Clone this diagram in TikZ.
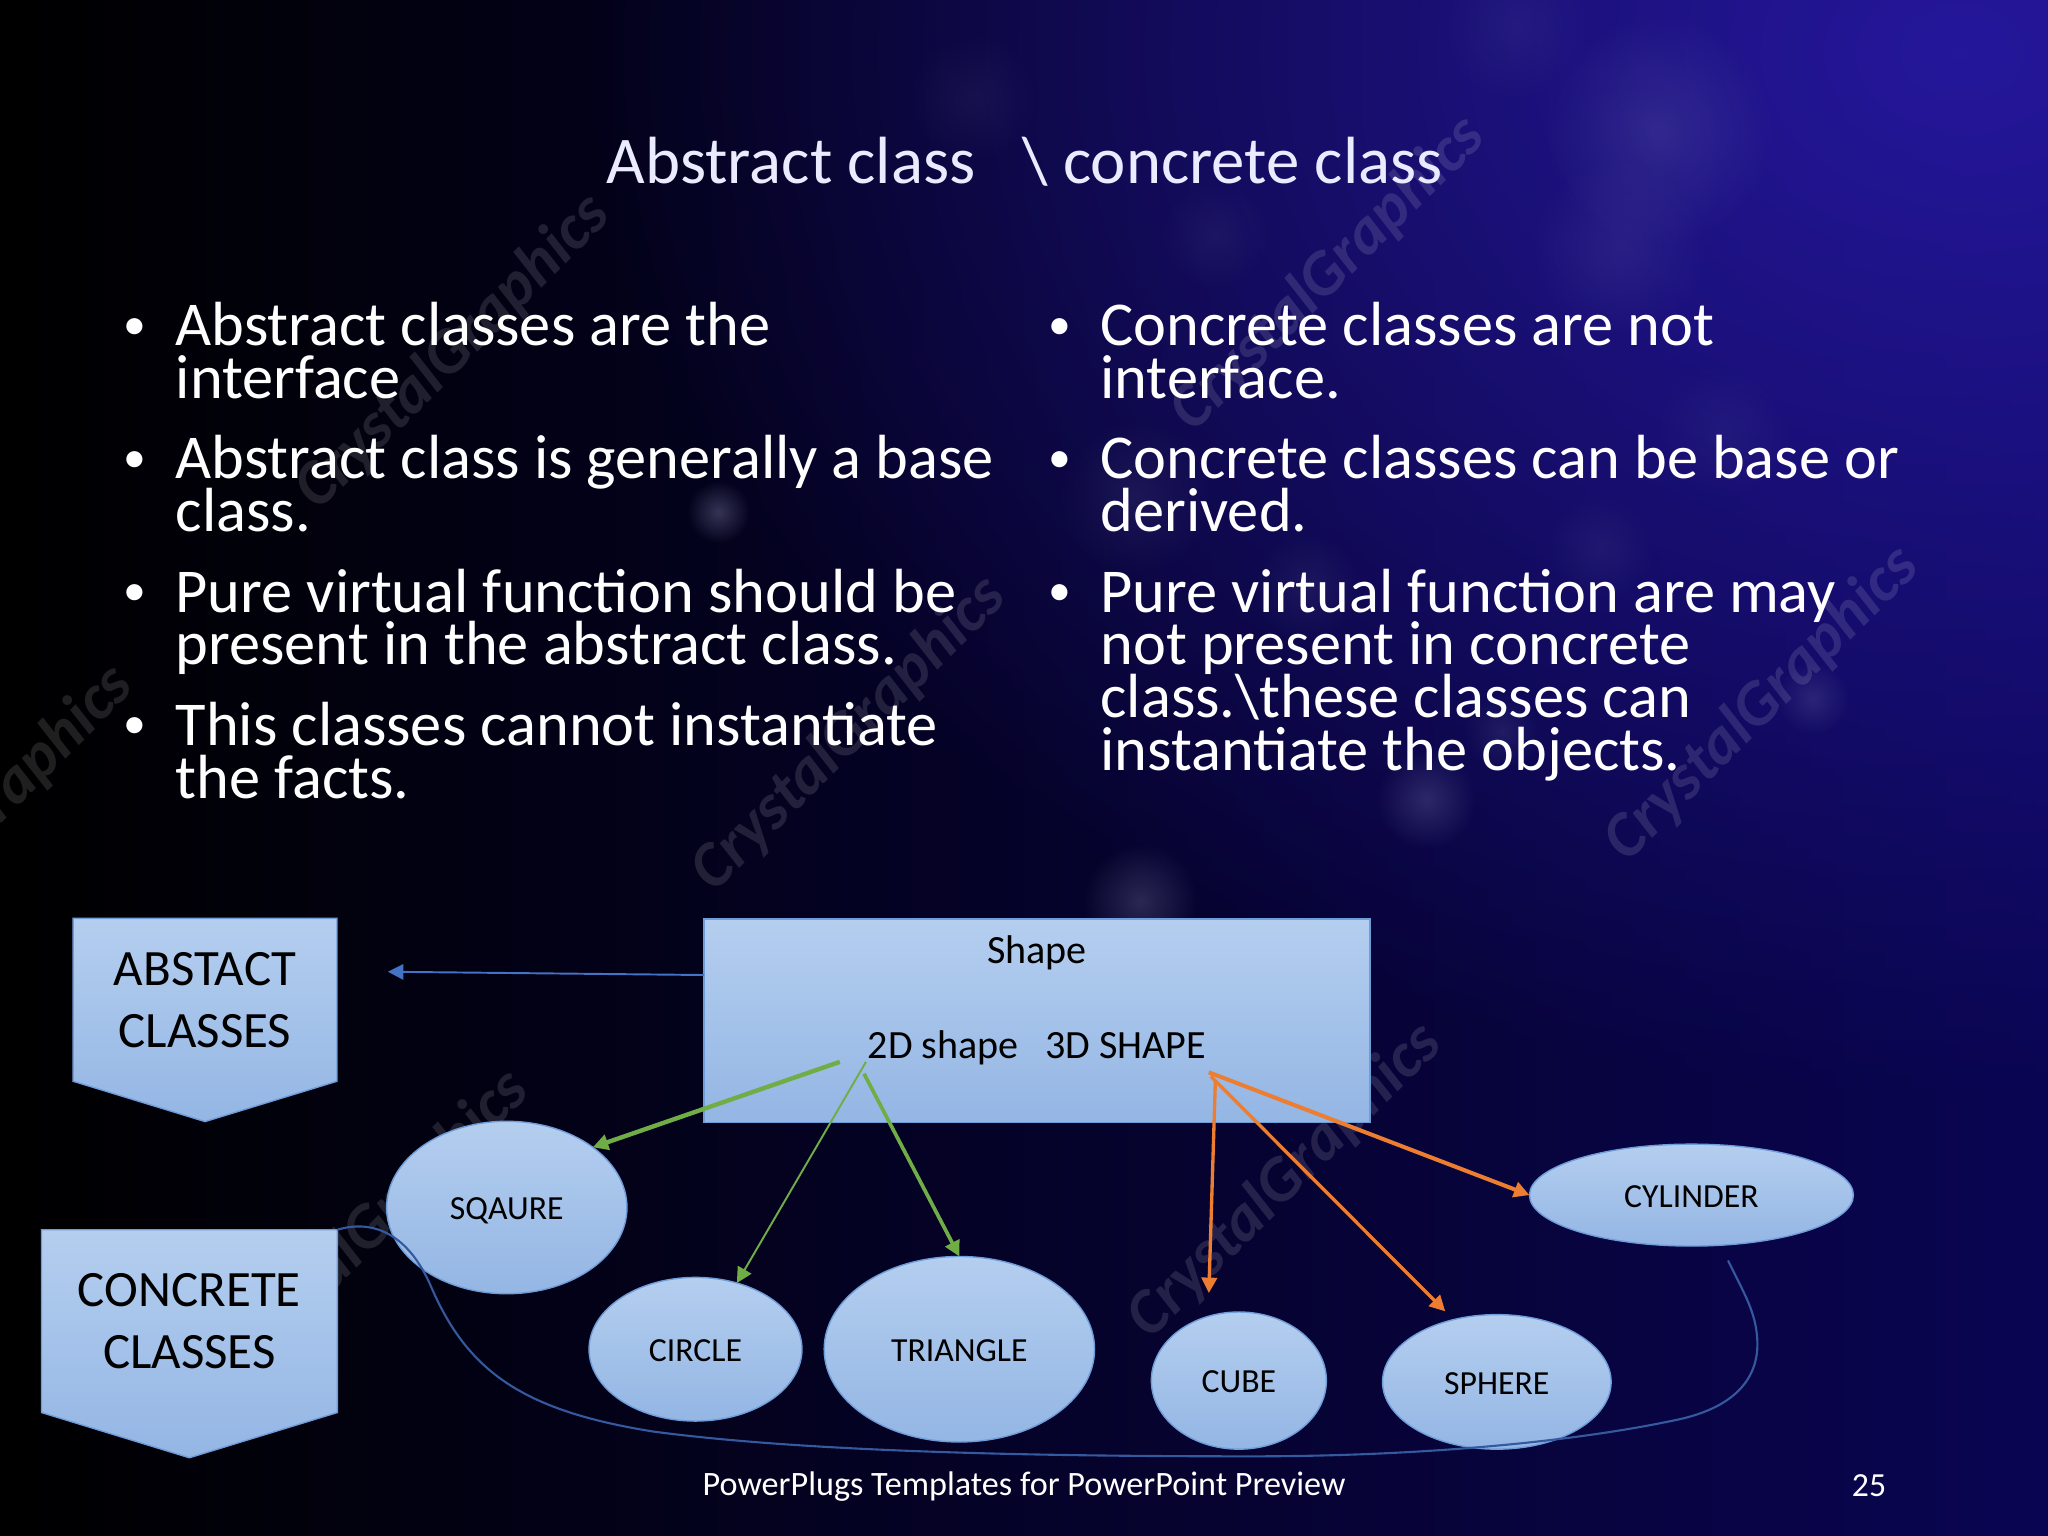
\documentclass[tikz,border=0pt]{standalone}
\usepackage{fontspec}
\setmainfont{Carlito}
\usepackage{tikz}
\usetikzlibrary{arrows.meta,positioning,shapes.geometric,shapes.symbols,fadings}
\definecolor{shapetop}{HTML}{B4CEEF}
\definecolor{shapebottom}{HTML}{94B6E4}
\definecolor{shapeline}{HTML}{6F9DD9}
\definecolor{glowblue}{HTML}{2A1AA8}
\definecolor{basenavy}{HTML}{0A0552}
\definecolor{bokehtint}{HTML}{8C8CB8}
\definecolor{arrowblue}{HTML}{4472C4}
\definecolor{curveblue}{HTML}{34599E}
\definecolor{arrowgreen}{HTML}{70AD47}
\definecolor{arroworange}{HTML}{ED7D31}
\newcommand{\ux}{0.37162pt}
\tikzfading[name=glowfade, inner color=transparent!15, outer color=transparent!100]
\tikzfading[name=bokehfade, inner color=transparent!20, outer color=transparent!100]
\tikzstyle{bannerbox} = [draw=shapeline, top color=shapetop, bottom color=shapebottom, signal, signal to=south,
signal from=nowhere, signal pointer angle=146, inner sep=0pt, outer sep=0pt, align=center, text=black,
font=\fontsize{14.5}{17.6}\selectfont]
\tikzstyle{blobbox} = [draw=shapeline, top color=shapetop, bottom color=shapebottom, ellipse, inner sep=0pt,
outer sep=0pt, text=black, font=\fontsize{9.6}{12}\selectfont]
\tikzstyle{bodytext} = [anchor=north west, inner sep=0pt, align=left, text=white,
font=\fontsize{17.75}{15}\selectfont\lineskiplimit -20pt\relax]
\tikzstyle{watermark} = [rotate=45, text=white, text opacity=0.12, font=\fontsize{18.3}{20}\selectfont\bfseries\itshape]
\tikzstyle{tip} = [-{Triangle[length=4.4pt,width=4.4pt]}]
\newcommand{\dotted}{\llap{\raisebox{1.9pt}{\fontsize{13}{13}\selectfont\textbullet}\hspace{8.3pt}}}
\newcommand{\lowered}[1]{\raisebox{-3.5pt}[0pt][0pt]{#1}}

\begin{document}
\begin{tikzpicture}[x=\ux, y=-\ux]
	\useasboundingbox (0,0) rectangle (1568,1176);
	% background
	\clip (0,0) rectangle (1568,1176);
	\shade [left color=black, middle color=black!88!basenavy, right color=basenavy] (0,0) rectangle (1568,1176);
	\fill [glowblue, path fading=glowfade] (1500,40) ellipse (1050 and 800);
	\foreach \cx/\cy/\cr/\co in {1270/100/90/0.22,1240/190/70/0.15,1160/20/60/0.10,745/75/50/0.10,930/180/42/0.10,
		550/392/24/0.45,870/380/60/0.14,1092/612/38/0.32,1150/560/30/0.18,873/690/44/0.34,1388/535/28/0.25,
		1000/450/42/0.14,1320/330/55/0.10,1225/420/42/0.12}
		\fill [bokehtint, opacity=\co, path fading=bokehfade] (\cx,\cy) circle (\cr);
	\node [watermark] (MarkOne) at (347,270) {CrystalGraphics};
	\node [watermark] (MarkTwo) at (1017,210) {CrystalGraphics};
	\node [watermark] (MarkThree) at (650,562) {CrystalGraphics};
	\node [watermark] (MarkFour) at (1349,539) {CrystalGraphics};
	\node [watermark] (MarkFive) at (984,904) {CrystalGraphics};
	\node [watermark] (MarkSix) at (285,940) {CrystalGraphics};
	\node [watermark] (MarkSeven) at (-18,630) {CrystalGraphics};

	% title and bullets
	\node [text=white!92!blue, font=\fontsize{19}{22}\selectfont] (Title) at (784.5,124) {Abstract class\hspace{13.4pt}\textbackslash\ concrete class};
	\node [bodytext] (AbstractOne) at (134,231) {\dotted Abstract classes are the\\interface};
	\node [bodytext] (AbstractTwo) at (134,333) {\dotted Abstract class is generally a base\\class.};
	\node [bodytext] (AbstractThree) at (134,435) {\dotted Pure virtual function should be\\present in the abstract class.};
	\node [bodytext] (AbstractFour) at (134,537) {\dotted This classes cannot instantiate\\the facts.};
	\node [bodytext] (ConcreteOne) at (842,231) {\dotted Concrete classes are not\\interface.};
	\node [bodytext] (ConcreteTwo) at (842,333) {\dotted Concrete classes can be base or\\derived.};
	\node [bodytext] (ConcreteThree) at (842,435) {\dotted Pure virtual function are may\\not present in concrete\\class.\textbackslash these classes can\\instantiate the objects.};

	% boxes
	\node [bannerbox, minimum width=202*\ux, minimum height=146*\ux] (AbstractClasses) at (157,765.5) {ABSTACT\\CLASSES};
	\node [bannerbox, minimum width=226.5*\ux, minimum height=166*\ux] (ConcreteClasses) at (145,1011.5) {CONCRETE\\CLASSES};
	\node [draw=shapeline, top color=shapetop, bottom color=shapebottom, minimum width=510*\ux, minimum height=156*\ux, inner sep=0pt, outer sep=0pt,
		align=center, text=black, font=\fontsize{11.4}{13.56}\selectfont] (ShapeBox) at (794,781.5) {Shape\\ \\2D shape\hspace{7.6pt}3D SHAPE\\ \mbox{}};
	\node [blobbox, minimum width=184*\ux, minimum height=132*\ux] (Square) at (388,924.5) {\lowered{SQAURE}};
	\node [blobbox, minimum width=163*\ux, minimum height=110*\ux] (Circle) at (532.5,1033) {\lowered{CIRCLE}};
	\node [blobbox, minimum width=207*\ux, minimum height=142*\ux] (Triangle) at (734.5,1033) {\lowered{TRIANGLE}};
	\node [blobbox, minimum width=134*\ux, minimum height=105*\ux] (Cube) at (948.5,1057) {\lowered{CUBE}};
	\node [blobbox, minimum width=175*\ux, minimum height=103*\ux] (Sphere) at (1146,1058) {\lowered{SPHERE}};
	\node [blobbox, minimum width=248*\ux, minimum height=78*\ux] (Cylinder) at (1295,915) {\lowered{CYLINDER}};

	% footer
	\node [text=white, font=\fontsize{9.72}{12}\selectfont] (Footer) at (784,1138) {PowerPlugs Templates for PowerPoint Preview};
	\node [text=white, font=\fontsize{9.6}{12}\selectfont] (PageNumber) at (1431,1137.5) {25};

	% free ends of the connectors
	\coordinate (AbstractTip) at (297,744);
	\coordinate (ShapeLeft) at (539,746.5);
	\coordinate (TwoDA) at (643,813);
	\coordinate (TwoDB) at (663,813);
	\coordinate (TwoDC) at (661.5,822);
	\coordinate (ThreeDA) at (925.5,821);
	\coordinate (ThreeDB) at (930.5,827.5);
	\coordinate (ThreeDC) at (927,824);
	\coordinate (CubeTip) at (925.5,990);
	\coordinate (SphereTip) at (1106.5,1004);
	\coordinate (CurveEnd) at (1323,965);

	\draw [tip, arrowblue, line width=0.55pt] (ShapeLeft) -- (AbstractTip);
	\draw [tip, arrowgreen, line width=1.25pt] (TwoDA) -- (Square.35);
	\draw [tip, arrowgreen, line width=0.55pt] (TwoDB) -- (Circle.58);
	\draw [tip, arrowgreen, line width=1.05pt] (TwoDC) -- (Triangle.north);
	\draw [tip, arroworange, line width=1.15pt] (ThreeDA) -- (Cylinder.west);
	\draw [tip, arroworange, line width=0.95pt] (ThreeDB) -- (CubeTip);
	\draw [tip, arroworange, line width=0.95pt] (ThreeDC) -- (SphereTip);
	\draw [curveblue, line width=0.6pt] (ConcreteClasses.north east) .. controls (290,932) and (315,950) .. (330,985)
		.. controls (358,1050) and (400,1080) .. (500,1096)
		.. controls (620,1112) and (800,1115) .. (959,1115)
		.. controls (1080,1115) and (1200,1105) .. (1284,1087)
		.. controls (1322,1079) and (1346,1060) .. (1345.5,1028)
		.. controls (1345,1005) and (1335,990) .. (CurveEnd);
\end{tikzpicture}
\end{document}
